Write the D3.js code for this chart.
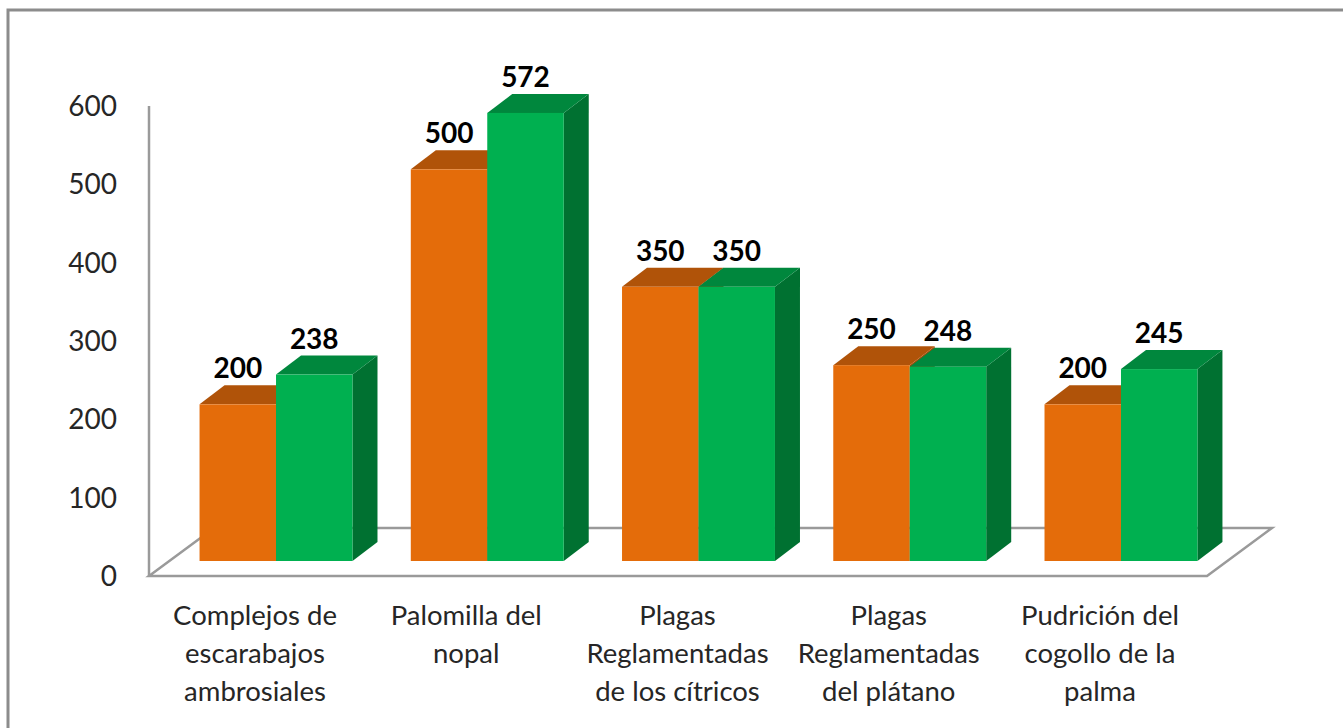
<!DOCTYPE html>
<html>
<head>
<meta charset="utf-8">
<script src="https://cdn.jsdelivr.net/npm/d3@7"></script>
<style>
  body { margin: 0; background: #fff; }
  svg { display: block; font-family: Lato, "Open Sans", sans-serif; }
</style>
</head>
<body>
<div id="chart"></div>
<script>
// Data
const categories = [
  "Complejos de escarabajos ambrosiales",
  "Palomilla del nopal",
  "Plagas Reglamentadas de los cítricos",
  "Plagas Reglamentadas del plátano",
  "Pudrición del cogollo de la palma"
];
const categoryLines = [
  ["Complejos de", "escarabajos", "ambrosiales"],
  ["Palomilla del", "nopal"],
  ["Plagas", "Reglamentadas", "de los cítricos"],
  ["Plagas", "Reglamentadas", "del plátano"],
  ["Pudrición del", "cogollo de la", "palma"]
];
const seriesNames = ["Serie 1", "Serie 2"];
const seriesA = [200, 500, 350, 250, 200];
const seriesB = [238, 572, 350, 248, 245];
const yTicks = [0, 100, 200, 300, 400, 500, 600];

const width = 1343, height = 728;

const svg = d3.select("#chart")
  .append("svg")
  .attr("width", width)
  .attr("height", height);

// chart border
svg.append("rect")
  .attr("x", 8)
  .attr("y", 10)
  .attr("width", 1400)
  .attr("height", 800)
  .attr("fill", "#fff")
  .attr("stroke", "#8c8c8c")
  .attr("stroke-width", 3);

// scales
const y = d3.scaleLinear().domain([0, 600]).range([576, 106]);

const x = d3.scaleBand()
  .domain(categories)
  .range([170.4, 1226.6])
  .paddingInner(0.276)
  .paddingOuter(0.138);

const xs = d3.scaleBand()
  .domain(seriesNames)
  .range([0, x.bandwidth()]);

// 3d offsets
const floorDx = 65, floorDy = -48;   // full floor depth
const barFrontDy = -15;              // bars sit a bit back from the floor front
const depthDx = 25, depthDy = -19;   // bar depth

// floor
const fx0 = 149, fx1 = 1207, fy = y(0);
svg.append("path")
  .attr("d", `M${fx0},${fy}L${fx1},${fy}L${fx1 + floorDx},${fy + floorDy}L${fx0 + floorDx},${fy + floorDy}Z`)
  .attr("fill", "#fff")
  .attr("stroke", "#9a9a9a")
  .attr("stroke-width", 2.5);

// vertical axis line
svg.append("line")
  .attr("x1", fx0).attr("x2", fx0)
  .attr("y1", y(600)).attr("y2", y(0))
  .attr("stroke", "#9a9a9a")
  .attr("stroke-width", 2.5);

// y tick labels
svg.append("g")
  .selectAll("text")
  .data(yTicks)
  .join("text")
  .attr("x", 117)
  .attr("y", d => y(d))
  .attr("dy", "0.36em")
  .attr("text-anchor", "end")
  .style("font-size", "28px")
  .style("fill", "#262626")
  .text(d => d);

// bars
const colors = {
  "Serie 1": { front: "#E46C0A", top: "#B05309", side: "#A04C08" },
  "Serie 2": { front: "#00B050", top: "#00873D", side: "#007131" }
};

const rows = [];
categories.forEach((c, i) => {
  rows.push({ cat: c, s: "Serie 1", v: seriesA[i] });
  rows.push({ cat: c, s: "Serie 2", v: seriesB[i] });
});

const bars = svg.append("g")
  .selectAll("g")
  .data(rows)
  .join("g");

bars.each(function(d) {
  const g = d3.select(this);
  const x0 = x(d.cat) + xs(d.s);
  const w = xs.bandwidth();
  const yb = y(0) + barFrontDy;
  const yt = y(d.v) + barFrontDy;
  const c = colors[d.s];
  // side
  g.append("path")
    .attr("d", `M${x0 + w},${yt}L${x0 + w + depthDx},${yt + depthDy}L${x0 + w + depthDx},${yb + depthDy}L${x0 + w},${yb}Z`)
    .attr("fill", c.side);
  // top
  g.append("path")
    .attr("d", `M${x0},${yt}L${x0 + depthDx},${yt + depthDy}L${x0 + w + depthDx},${yt + depthDy}L${x0 + w},${yt}Z`)
    .attr("fill", c.top);
  // front
  g.append("rect")
    .attr("x", x0)
    .attr("y", yt)
    .attr("width", w)
    .attr("height", yb - yt)
    .attr("fill", c.front);
  // value label
  g.append("text")
    .attr("x", x0 + w / 2)
    .attr("y", yt + depthDy - 7)
    .attr("text-anchor", "middle")
    .style("font-size", "28px")
    .style("font-weight", "bold")
    .style("fill", "#000")
    .text(d.v);
});

// category labels
svg.append("g")
  .selectAll("text")
  .data(categories)
  .join("text")
  .attr("x", d => x(d) + x.bandwidth() / 2 - 21)
  .attr("y", 625)
  .attr("text-anchor", "middle")
  .style("font-size", "27.5px")
  .style("fill", "#262626")
  .each(function(d, i) {
    d3.select(this).selectAll("tspan")
      .data(categoryLines[i])
      .join("tspan")
      .attr("x", x(d) + x.bandwidth() / 2 - 21)
      .attr("dy", (l, j) => j === 0 ? 0 : 38)
      .text(l => l);
  });
</script>
</body>
</html>
